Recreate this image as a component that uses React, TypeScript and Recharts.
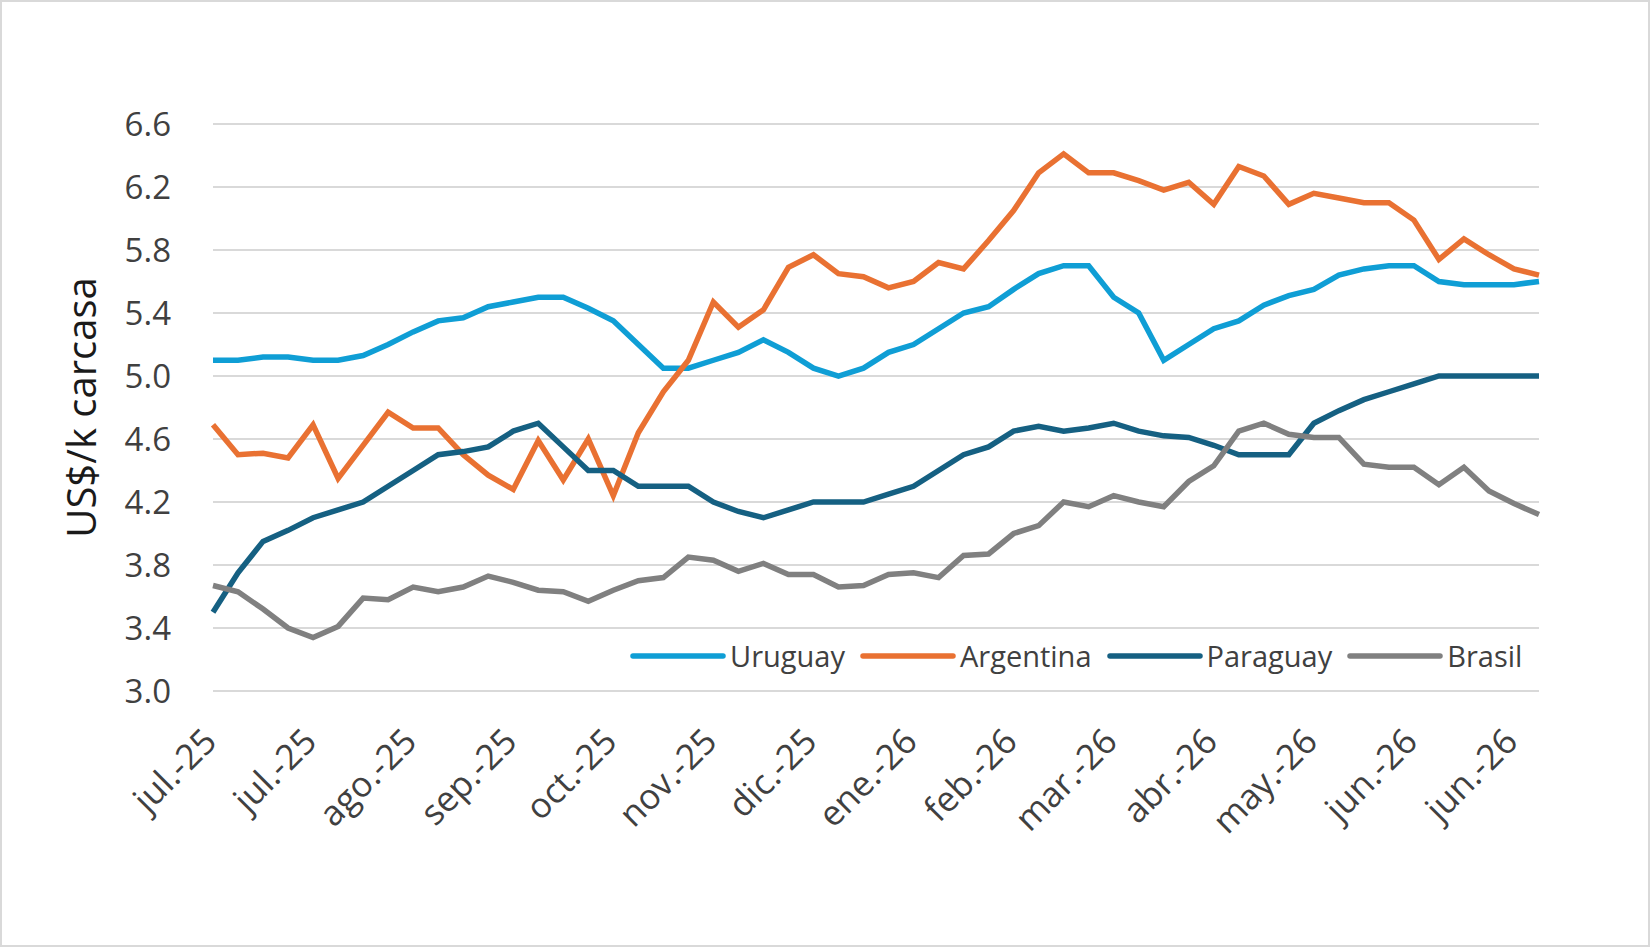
import { LineChart, Line, XAxis, YAxis, CartesianGrid, Legend } from 'recharts'

// semanas (una por punto), se muestra una etiqueta cada 4
const weeks = [
  'jul.-25', 'jul.-25', 'jul.-25', 'jul.-25', 'jul.-25', 'ago.-25', 'ago.-25', 'ago.-25', 'ago.-25',
  'sep.-25', 'sep.-25', 'sep.-25', 'sep.-25', 'sep.-25', 'oct.-25', 'oct.-25', 'oct.-25', 'oct.-25',
  'nov.-25', 'nov.-25', 'nov.-25', 'nov.-25', 'dic.-25', 'dic.-25', 'dic.-25', 'dic.-25', 'dic.-25',
  'ene.-26', 'ene.-26', 'ene.-26', 'ene.-26', 'feb.-26', 'feb.-26', 'feb.-26', 'feb.-26',
  'mar.-26', 'mar.-26', 'mar.-26', 'mar.-26', 'mar.-26', 'abr.-26', 'abr.-26', 'abr.-26', 'abr.-26',
  'may.-26', 'may.-26', 'may.-26', 'may.-26', 'jun.-26', 'jun.-26', 'jun.-26', 'jun.-26', 'jun.-26', 'jul.-26',
]

const uruguay = [
  5.10, 5.10, 5.12, 5.12, 5.10, 5.10, 5.13, 5.20, 5.28, 5.35,
  5.37, 5.44, 5.47, 5.50, 5.50, 5.43, 5.35, 5.20, 5.05, 5.05,
  5.10, 5.15, 5.23, 5.15, 5.05, 5.00, 5.05, 5.15, 5.20, 5.30,
  5.40, 5.44, 5.55, 5.65, 5.70, 5.70, 5.50, 5.40, 5.10, 5.20,
  5.30, 5.35, 5.45, 5.51, 5.55, 5.64, 5.68, 5.70, 5.70, 5.60,
  5.58, 5.58, 5.58, 5.60,
]

const argentina = [
  4.69, 4.50, 4.51, 4.48, 4.69, 4.35, 4.56, 4.77, 4.67, 4.67,
  4.50, 4.37, 4.28, 4.59, 4.34, 4.60, 4.24, 4.64, 4.90, 5.10,
  5.47, 5.31, 5.42, 5.69, 5.77, 5.65, 5.63, 5.56, 5.60, 5.72,
  5.68, 5.86, 6.05, 6.29, 6.41, 6.29, 6.29, 6.24, 6.18, 6.23,
  6.09, 6.33, 6.27, 6.09, 6.16, 6.13, 6.10, 6.10, 5.99, 5.74,
  5.87, 5.77, 5.68, 5.64,
]

const paraguay = [
  3.50, 3.75, 3.95, 4.02, 4.10, 4.15, 4.20, 4.30, 4.40, 4.50,
  4.52, 4.55, 4.65, 4.70, 4.55, 4.40, 4.40, 4.30, 4.30, 4.30,
  4.20, 4.14, 4.10, 4.15, 4.20, 4.20, 4.20, 4.25, 4.30, 4.40,
  4.50, 4.55, 4.65, 4.68, 4.65, 4.67, 4.70, 4.65, 4.62, 4.61,
  4.56, 4.50, 4.50, 4.50, 4.70, 4.78, 4.85, 4.90, 4.95, 5.00,
  5.00, 5.00, 5.00, 5.00,
]

const brasil = [
  3.67, 3.63, 3.52, 3.40, 3.34, 3.41, 3.59, 3.58, 3.66, 3.63,
  3.66, 3.73, 3.69, 3.64, 3.63, 3.57, 3.64, 3.70, 3.72, 3.85,
  3.83, 3.76, 3.81, 3.74, 3.74, 3.66, 3.67, 3.74, 3.75, 3.72,
  3.86, 3.87, 4.00, 4.05, 4.20, 4.17, 4.24, 4.20, 4.17, 4.33,
  4.43, 4.65, 4.70, 4.63, 4.61, 4.61, 4.44, 4.42, 4.42, 4.31,
  4.42, 4.27, 4.19, 4.12,
]

const yTicks = [3.0, 3.4, 3.8, 4.2, 4.6, 5.0, 5.4, 5.8, 6.2, 6.6]

const series = [
  { key: 'uruguay', name: 'Uruguay', color: '#0F9ED5' },
  { key: 'argentina', name: 'Argentina', color: '#E97132' },
  { key: 'paraguay', name: 'Paraguay', color: '#156082' },
  { key: 'brasil', name: 'Brasil', color: '#808080' },
]

const chartData = weeks.map((w, i) => ({
  week: w,
  uruguay: uruguay[i],
  argentina: argentina[i],
  paraguay: paraguay[i],
  brasil: brasil[i],
}))

const FONT = '"Open Sans", sans-serif'
const TEXT = '#404040'

function LegendRow() {
  return (
    <div style={{ display: 'flex', alignItems: 'center', fontFamily: FONT, fontSize: 29, color: TEXT }}>
      {series.map(s => (
        <div key={s.key} style={{ display: 'flex', alignItems: 'center', marginRight: 15 }}>
          <svg width={96} height={10}>
            <line x1={3} y1={5} x2={93} y2={5} stroke={s.color} strokeWidth={5.5} strokeLinecap="round" />
          </svg>
          <span style={{ marginLeft: 4 }}>{s.name}</span>
        </div>
      ))}
    </div>
  )
}

export default function App() {
  return (
    <div
      style={{
        position: 'absolute',
        left: 0,
        top: 0,
        width: 1650,
        height: 947,
        boxSizing: 'border-box',
        border: '2px solid #d9d9d9',
        background: '#fff',
      }}
    >
      <LineChart
        width={1646}
        height={943}
        data={chartData}
        margin={{ top: 122, right: 109, left: 11, bottom: 106 }}
      >
        <CartesianGrid vertical={false} stroke="#d9d9d9" strokeWidth={2} />
        <XAxis
          dataKey="week"
          interval={3}
          axisLine={false}
          tickLine={false}
          tickSize={0}
          tickMargin={35}
          angle={-45}
          height={148}
          tick={{ fill: TEXT, fontSize: 35, fontFamily: FONT, textAnchor: 'end', dx: -12 }}
        />
        <YAxis
          domain={[3.0, 6.6]}
          ticks={yTicks}
          width={200}
          axisLine={false}
          tickLine={false}
          tickSize={0}
          tickMargin={42}
          tickFormatter={(v: number) => v.toFixed(1)}
          tick={{ fill: TEXT, fontSize: 33, fontFamily: FONT }}
          label={{
            value: 'US$/k carcasa',
            angle: -90,
            position: 'insideLeft',
            offset: 69,
            style: { textAnchor: 'middle', fill: '#1a1a1a', fontSize: 40, fontFamily: FONT },
          }}
        />
        <Legend
          layout="horizontal"
          verticalAlign="middle"
          align="center"
          content={() => <LegendRow />}
          wrapperStyle={{ left: 628, top: 634, width: 960, height: 40 }}
        />
        {series.map(s => (
          <Line
            key={s.key}
            dataKey={s.key}
            name={s.name}
            stroke={s.color}
            strokeWidth={5.5}
            dot={false}
            activeDot={false}
            type="linear"
            isAnimationActive={false}
          />
        ))}
      </LineChart>
    </div>
  )
}
